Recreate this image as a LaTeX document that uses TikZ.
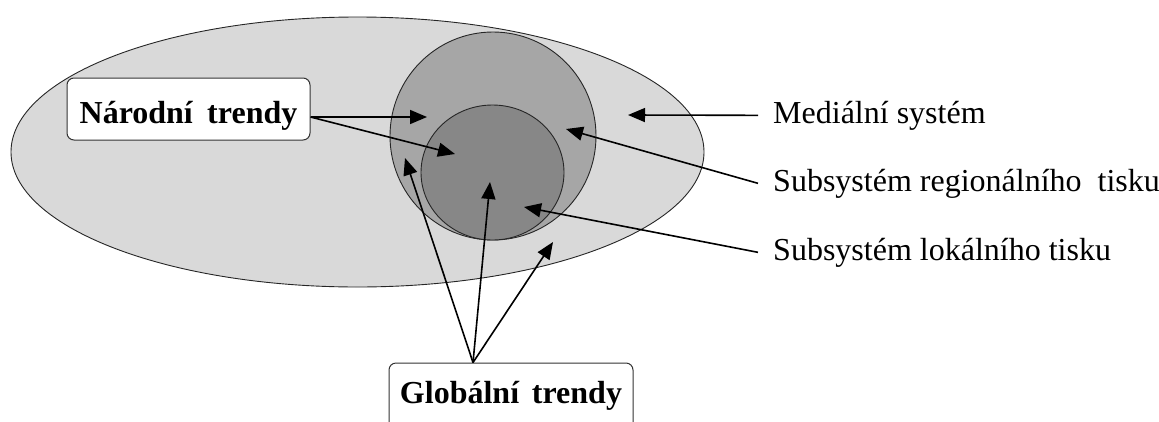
\documentclass[tikz,border=0pt]{standalone}
\usepackage{fontspec}
\setmainfont{Liberation Serif}
\usetikzlibrary{arrows.meta}
\definecolor{mediafill}{HTML}{D9D9D9}
\definecolor{regfill}{HTML}{A6A6A6}
\definecolor{locfill}{HTML}{878787}
\begin{document}
\begin{tikzpicture}[x=1pt,y=-1pt,
  set/.style={draw=black!85,line width=0.9pt},
  trendbox/.style={draw=black!80,line width=1pt,fill=white,rounded corners=7pt,
    inner sep=0pt,font=\fontsize{32}{36}\selectfont\bfseries},
  caption/.style={anchor=base west,inner xsep=15pt,inner ysep=0pt,
    font=\fontsize{32}{36}\selectfont},
  link/.style={line width=1.6pt,-{Triangle[length=17pt,width=14pt]}}]
  \useasboundingbox (0,0) rectangle (1159,421);
  \clip (0,0) rectangle (1159,421);

  % nested systems
  \draw[set,fill=mediafill] (357.5,152) ellipse [x radius=346.5,y radius=135];
  \draw[set,fill=regfill] (493,136) ellipse [x radius=103,y radius=104];
  \draw[set,fill=locfill] (492.5,172.5) ellipse [x radius=71.5,y radius=67.5];

  % trend boxes
  \node[trendbox,minimum width=243pt,minimum height=62pt,
        text height=28pt,text depth=0pt] (nar) at (188.5,109)
        {Národní\hspace{0.45em}trendy};
  \node[trendbox,minimum width=244pt,minimum height=80pt,
        text height=20pt,text depth=20pt] (glob) at (511,403)
        {Globální\hspace{0.4em}trendy};

  % captions on the right
  \node[caption] (med) at (758,123) {Mediální systém};
  \node[caption] (reg) at (758,191) {Subsystém regionálního\hspace{0.5em}tisku};
  \node[caption] (loc) at (758,260) {Subsystém lokálního tisku};

  % arrow targets inside the sets
  \coordinate (tmed) at (628,115);
  \coordinate (treg) at (566,129);
  \coordinate (tloc) at (524,207);
  \coordinate (tn1) at (427,117);
  \coordinate (tn2) at (455,154);
  \coordinate (tg1) at (405,158);
  \coordinate (tg2) at (490,182);
  \coordinate (tg3) at (553,242);
  \coordinate (nsrc) at ([yshift=-8pt]nar.east);
  \coordinate (gsrc) at ([xshift=-38pt]glob.north);

  \draw[link] (med.west) -- (tmed);
  \draw[link] (reg.west) -- (treg);
  \draw[link] (loc.west) -- (tloc);
  \draw[link] (nsrc) -- (tn1);
  \draw[link] (nsrc) -- (tn2);
  \draw[link] (gsrc) -- (tg1);
  \draw[link] (gsrc) -- (tg2);
  \draw[link] (gsrc) -- (tg3);
\end{tikzpicture}
\end{document}
